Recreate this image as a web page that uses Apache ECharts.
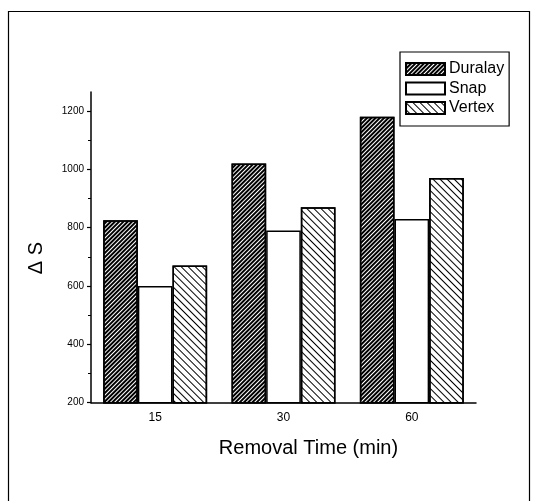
<!DOCTYPE html>
<html>
<head>
<meta charset="utf-8">
<script src="https://cdn.jsdelivr.net/npm/echarts@6/dist/echarts.min.js"></script>
<style>
html,body{margin:0;padding:0;background:#fff;}
#main{width:534px;height:501px;}
</style>
</head>
<body>
<div id="main"></div>
<script>
const categories = ['15', '30', '60'];
const duralay = [825, 1020, 1180];
const snap = [600, 790, 830];
const vertex = [670, 870, 970];
const yMajorTicks = [200, 400, 600, 800, 1000, 1200];
const yMinorTicks = [300, 500, 700, 900, 1100];
const seriesNames = ['Duralay', 'Snap', 'Vertex'];
const xTitle = 'Removal Time (min)';
const yTitle = 'Δ S';

const FONT = '"Liberation Sans", Arial, sans-serif';
const chart = echarts.init(document.getElementById('main'), null, {renderer: 'canvas'});

const denseRight = {symbol: 'rect', dashArrayX: [1, 0], dashArrayY: [1.2, 1], rotation: -Math.PI / 4, color: '#000', symbolSize: 1};
const sparseLeft = {symbol: 'rect', dashArrayX: [1, 0], dashArrayY: [1, 3.7], rotation: Math.PI / 4, color: '#000', symbolSize: 1};

const barStyle = (decal) => ({color: '#fff', borderColor: '#000', borderWidth: 1.5, decal: decal});

chart.setOption({
  animation: false,
  backgroundColor: '#fff',
  grid: {left: 91, right: 58, top: 92, bottom: 98.3},
  legend: {
    orient: 'vertical', left: 400, top: 52,
    data: seriesNames,
    icon: 'rect', itemWidth: 39, itemHeight: 12, itemGap: 3.5,
    padding: [9, 5, 10, 5],
    borderColor: '#000', borderWidth: 1.2,
    textStyle: {fontFamily: FONT, fontSize: 16, color: '#000', padding: [0, 0, 0, -1]}
  },
  xAxis: [{
    type: 'category', data: categories,
    axisLine: {lineStyle: {color: '#000', width: 1.5}},
    axisTick: {alignWithLabel: true, length: 5, lineStyle: {color: '#000', width: 1.2}},
    axisLabel: {fontFamily: FONT, fontSize: 12, color: '#000', margin: 9}
  }, {
    type: 'category', data: categories, position: 'bottom',
    axisLine: {show: false},
    axisTick: {length: 4, lineStyle: {color: '#000', width: 1.2}},
    axisLabel: {show: false}
  }],
  yAxis: [{
    type: 'value', min: 200, max: 1265, interval: 200,
    axisLine: {show: true, lineStyle: {color: '#000', width: 1.5}},
    axisTick: {show: true, length: 4, customValues: yMajorTicks, lineStyle: {color: '#000', width: 1.2}},
    axisLabel: {fontFamily: FONT, fontSize: 10, color: '#000', margin: 7, customValues: yMajorTicks, formatter: (v) => String(v)},
    splitLine: {show: false}
  }, {
    type: 'value', min: 200, max: 1265, interval: 100, position: 'left',
    axisLine: {show: false},
    axisTick: {show: true, length: 3, customValues: yMinorTicks, lineStyle: {color: '#000', width: 1}},
    axisLabel: {show: false},
    splitLine: {show: false}
  }],
  series: [
    {name: seriesNames[0], type: 'bar', data: duralay, barGap: '0%', barCategoryGap: '19%', itemStyle: barStyle(denseRight)},
    {name: seriesNames[1], type: 'bar', data: snap, barGap: '0%', barCategoryGap: '19%', itemStyle: barStyle(null)},
    {name: seriesNames[2], type: 'bar', data: vertex, barGap: '0%', barCategoryGap: '19%', itemStyle: barStyle(sparseLeft)}
  ],
  graphic: [
    {type: 'rect', left: 6, top: 9, shape: {width: 521, height: 490}, style: {fill: 'none', stroke: '#000', lineWidth: 1.2}, silent: true, z: -1},
    {type: 'text', x: 308.5, y: 448, style: {text: xTitle, font: '20px ' + FONT, fill: '#000', textAlign: 'center', textVerticalAlign: 'middle'}},
    {type: 'text', x: 36, y: 258, rotation: Math.PI / 2, style: {text: yTitle, font: '20px ' + FONT, fill: '#000', textAlign: 'center', textVerticalAlign: 'middle'}}
  ]
});
</script>
</body>
</html>
